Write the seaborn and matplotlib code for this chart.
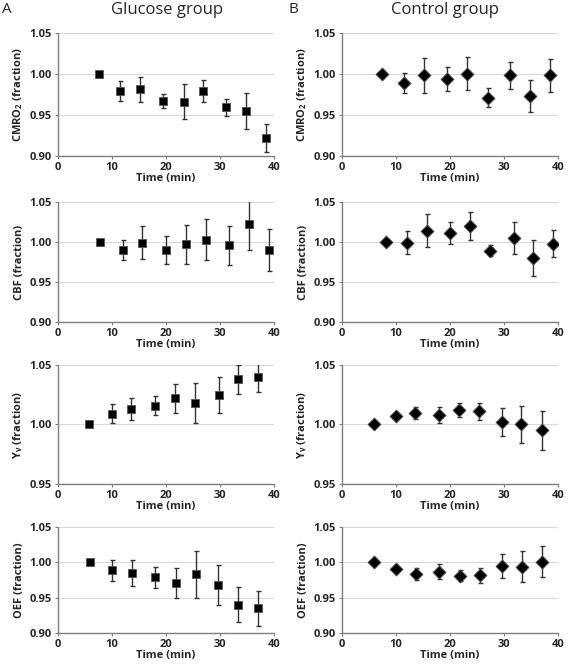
import matplotlib
matplotlib.use("Agg")
import matplotlib.pyplot as plt
import seaborn as sns
import pandas as pd

# ---------------- data ----------------
t_cmro2_glu = [7.6, 11.5, 15.2, 19.5, 23.3, 26.9, 31.2, 34.9, 38.6]
cmro2_glu = [1.000, 0.979, 0.981, 0.967, 0.966, 0.979, 0.959, 0.955, 0.922]
cmro2_glu_err = [0, 0.012, 0.015, 0.009, 0.021, 0.013, 0.010, 0.022, 0.017]

t_cmro2_ctl = [7.4, 11.5, 15.2, 19.5, 23.2, 27.0, 31.2, 34.8, 38.5]
cmro2_ctl = [1.000, 0.989, 0.998, 0.994, 1.000, 0.971, 0.998, 0.973, 0.998]
cmro2_ctl_err = [0, 0.0125, 0.021, 0.0145, 0.020, 0.012, 0.016, 0.019, 0.020]

t_cbf_glu = [7.8, 12.0, 15.6, 20.0, 23.8, 27.5, 31.7, 35.4, 39.1]
cbf_glu = [1.000, 0.990, 0.999, 0.990, 0.997, 1.003, 0.996, 1.022, 0.990]
cbf_glu_err = [0, 0.0125, 0.0205, 0.018, 0.0245, 0.026, 0.0245, 0.032, 0.026]

t_cbf_ctl = [8.1, 12.1, 15.7, 20.1, 23.8, 27.5, 31.8, 35.4, 39.1]
cbf_ctl = [1.000, 0.999, 1.014, 1.011, 1.020, 0.989, 1.005, 0.980, 0.998]
cbf_ctl_err = [0, 0.0145, 0.0205, 0.014, 0.018, 0.007, 0.020, 0.023, 0.017]

t_yv_glu = [5.8, 10.0, 13.6, 18.0, 21.7, 25.4, 29.8, 33.3, 37.0]
yv_glu = [1.000, 1.009, 1.013, 1.016, 1.022, 1.018, 1.025, 1.038, 1.040]
yv_glu_err = [0, 0.008, 0.009, 0.008, 0.012, 0.017, 0.015, 0.0125, 0.0125]

t_yv_ctl = [5.9, 10.1, 13.6, 18.0, 21.7, 25.4, 29.6, 33.1, 37.0]
yv_ctl = [1.000, 1.007, 1.010, 1.008, 1.0125, 1.011, 1.002, 1.000, 0.995]
yv_ctl_err = [0, 0.002, 0.005, 0.007, 0.006, 0.007, 0.012, 0.016, 0.0166]

t_oef_glu = [5.85, 10.0, 13.7, 18.0, 21.8, 25.5, 29.7, 33.4, 37.1]
oef_glu = [1.000, 0.989, 0.985, 0.979, 0.971, 0.983, 0.968, 0.940, 0.935]
oef_glu_err = [0, 0.015, 0.019, 0.015, 0.021, 0.033, 0.029, 0.0245, 0.025]

t_oef_ctl = [5.85, 10.0, 13.7, 18.0, 21.8, 25.5, 29.7, 33.4, 37.1]
oef_ctl = [1.000, 0.991, 0.9835, 0.987, 0.981, 0.982, 0.995, 0.994, 1.001]
oef_ctl_err = [0, 0.002, 0.009, 0.0106, 0.008, 0.0106, 0.017, 0.022, 0.022]

x_ticks = [0, 10, 20, 30, 40]
y_ticks_wide = [0.90, 0.95, 1.00, 1.05]
y_ticks_narrow = [0.95, 1.00, 1.05]
y_labels = [r"CMRO$_\mathbf{2}$ (fraction)", "CBF (fraction)",
            r"Y$_\mathbf{v}$ (fraction)", "OEF (fraction)"]
group_titles = ["Glucose group", "Control group"]
panel_letters = ["A", "B"]

# ---------------- style ----------------
sns.set_theme(style="white")
plt.rcParams['font.family'] = ['Open Sans', 'DejaVu Sans']
plt.rcParams['mathtext.fontset'] = 'custom'
plt.rcParams['mathtext.bf'] = 'Open Sans:bold'
plt.rcParams['mathtext.rm'] = 'Open Sans:bold'
plt.rcParams['mathtext.default'] = 'bf'

fig = plt.figure(figsize=(5.68, 6.69), dpi=100)

rows = [
    (t_cmro2_glu, cmro2_glu, cmro2_glu_err, t_cmro2_ctl, cmro2_ctl, cmro2_ctl_err, y_ticks_wide),
    (t_cbf_glu, cbf_glu, cbf_glu_err, t_cbf_ctl, cbf_ctl, cbf_ctl_err, y_ticks_wide),
    (t_yv_glu, yv_glu, yv_glu_err, t_yv_ctl, yv_ctl, yv_ctl_err, y_ticks_narrow),
    (t_oef_glu, oef_glu, oef_glu_err, t_oef_ctl, oef_ctl, oef_ctl_err, y_ticks_wide),
]
row_pos = [(0.767, 0.184), (0.519, 0.179), (0.277, 0.177), (0.054, 0.158)]
col_left = [0.102, 0.602]
col_w = 0.380

for r, (tg, vg, eg, tc, vc, ec, yt) in enumerate(rows):
    b, h = row_pos[r]
    for c in range(2):
        ax = fig.add_axes([col_left[c], b, col_w, h])
        t, v, e = (tg, vg, eg) if c == 0 else (tc, vc, ec)
        marker = 's' if c == 0 else 'D'
        msize = 38 if c == 0 else 44
        ax.errorbar(t, v, yerr=e, fmt='none', ecolor='#333333', elinewidth=1.0,
                    capsize=1.8, capthick=1.0, zorder=2)
        df = pd.DataFrame({"t": t, "v": v})
        sns.scatterplot(data=df, x="t", y="v", marker=marker, s=msize, color='black',
                        edgecolor='#555555', linewidth=0.6, ax=ax, zorder=3, legend=False)
        ax.set_xlim(0, 40)
        ax.set_ylim(yt[0], yt[-1])
        ax.set_xticks(x_ticks)
        ax.set_yticks(yt)
        ax.set_yticklabels([f"{y:.2f}" for y in yt])
        ax.grid(axis='y', color='#d9d9d9', linewidth=0.8)
        ax.set_axisbelow(True)
        for s in ['top', 'right']:
            ax.spines[s].set_visible(False)
        for s in ['left', 'bottom']:
            ax.spines[s].set_color('#7f7f7f')
            ax.spines[s].set_linewidth(1.0)
        ax.tick_params(axis='both', labelsize=8, length=2.5, width=0.8,
                       color='#7f7f7f', pad=2, left=True, bottom=True)
        for lab in ax.get_xticklabels() + ax.get_yticklabels():
            lab.set_fontweight('bold')
        ax.set_xlabel("Time (min)", fontsize=8, fontweight='bold', labelpad=0)
        ax.set_ylabel(y_labels[r], fontsize=8, fontweight='bold', labelpad=3)

fig.text(0.294, 0.997, group_titles[0], ha='center', va='top', fontsize=12)
fig.text(0.783, 0.997, group_titles[1], ha='center', va='top', fontsize=12)
fig.text(0.004, 0.997, panel_letters[0], ha='left', va='top', fontsize=11)
fig.text(0.508, 0.997, panel_letters[1], ha='left', va='top', fontsize=11)

fig.savefig("out.png", dpi=100)
